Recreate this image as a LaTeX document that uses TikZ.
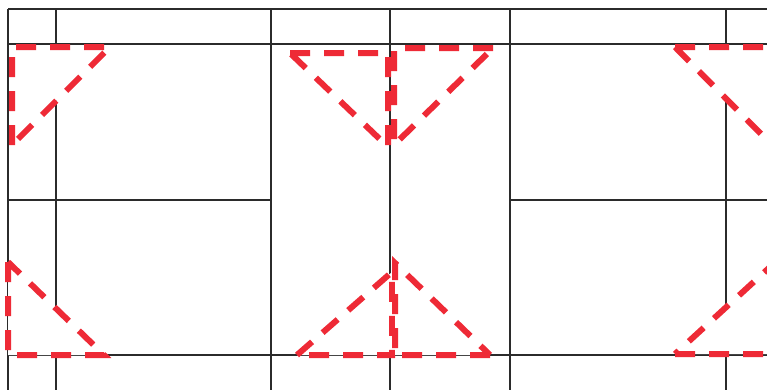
\documentclass[tikz,border=0pt]{standalone}
\usepackage{xcolor}
\definecolor{gridc}{HTML}{2B2B2B}
\definecolor{redc}{HTML}{EE2A36}
\begin{document}
\begin{tikzpicture}[x=1pt,y=-1pt,
  gridline/.style={draw=gridc,line width=1.8pt},
  tri/.style={draw=redc,fill=white,line width=6pt,dash pattern=on 20pt off 14pt,line join=miter}]
\useasboundingbox (0,0) rectangle (767,389);
\begin{scope}
\clip (0,0) rectangle (767,389);
% grid
\draw[gridline] (8,9) -- (775,9);
\draw[gridline] (8,44) -- (775,44);
\draw[gridline] (8,200) -- (271,200);
\draw[gridline] (510,200) -- (775,200);
\draw[gridline] (8,355) -- (775,355);
\foreach \x in {8,56,271,390,510,726}
  \draw[gridline] (\x,9) -- (\x,395);
% triangles
\draw[tri] (12,145) -- (12,47) -- (110,47) -- cycle;
\draw[tri] (8,262) -- (8,355) -- (104,355) -- cycle;
\draw[tri] (290,53) -- (388,53) -- (388,147) -- cycle;
\draw[tri] (493,48) -- (394,48) -- (394,145) -- cycle;
\draw[tri] (297,355) -- (392,272) -- (392,355) -- cycle;
\draw[tri] (490,355) -- (395,355) -- (395,263) -- cycle;
\draw[tri] (675,47) -- (770,47) -- (770,143) -- cycle;
\draw[tri] (675,354) -- (770,354) -- (770,267) -- cycle;
\end{scope}
\end{tikzpicture}
\end{document}
